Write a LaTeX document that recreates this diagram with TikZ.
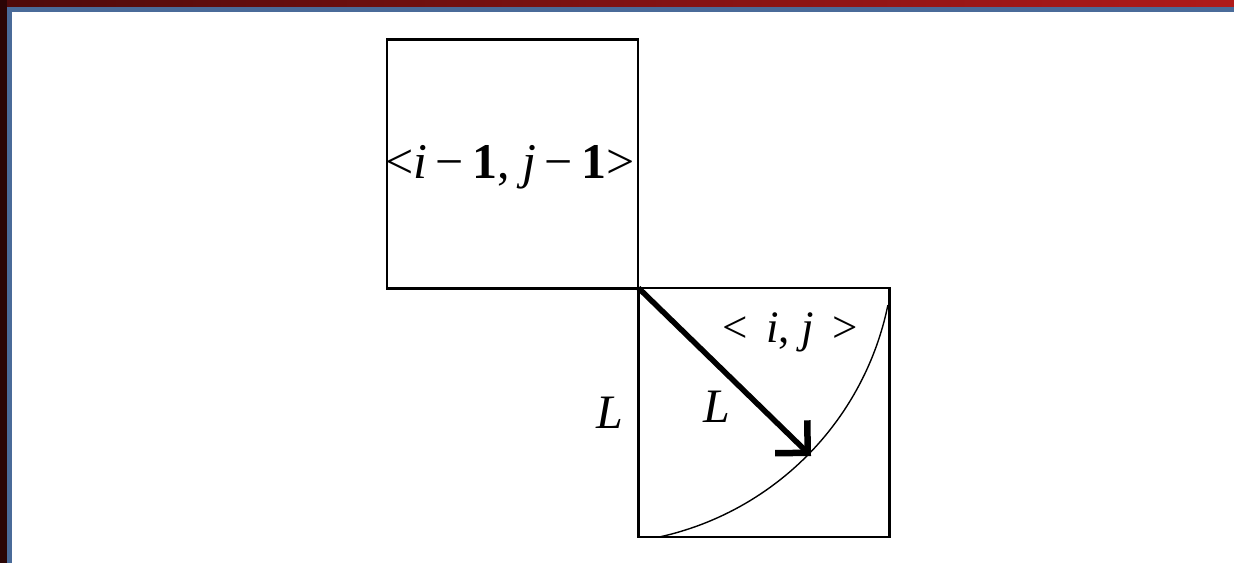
\documentclass[tikz,border=0pt]{standalone}
\usepackage{fontspec}
\setmainfont{Liberation Serif}
\usetikzlibrary{arrows.meta}
\definecolor{frameblue}{HTML}{4A6B99}
\definecolor{framedark}{HTML}{2A0505}
\definecolor{redL}{HTML}{4E0A0A}
\definecolor{redR}{HTML}{B01A1A}
\tikzset{
  cell/.style={draw=black, line width=2.2pt, minimum width=251pt, minimum height=249pt, inner sep=0pt, outer sep=0pt},
  lbl/.style={inner sep=0pt, font=\fontsize{50}{54}\selectfont},
  vec/.style={line width=5.5pt, -{Straight Barb[length=23pt,width=46pt,line width=6.5pt]}},
  bow/.style={line width=1.4pt}
}
\begin{document}
\begin{tikzpicture}[x=1pt,y=-1pt]
\useasboundingbox (0,0) rectangle (1234,563);
\fill[white] (0,0) rectangle (1234,563);
% frame
\shade[left color=redL, right color=redR] (0,0) rectangle (1234,6.5);
\fill[framedark] (0,0) rectangle (6.5,563);
\fill[frameblue] (6.5,6.5) rectangle (1234,11.5);
\fill[frameblue] (6.5,6.5) rectangle (11.5,563);
% squares
\node[cell] (prev) at (512.5,164) {};
\node[cell] (cur) at (764,412.5) {};
\node[lbl] (tprev) at (510,167) {<\textit{i}\,−\,\textbf{1}, \textit{j}\,−\,\textbf{1}>};
\node[lbl, font=\fontsize{45}{48}\selectfont] (tcur) at (790,332) {<\, \textit{i}, \textit{j}\, >};
\node[lbl, font=\fontsize{48}{50}\selectfont] (Lout) at (610,413) {\textit{L}};
\node[lbl, font=\fontsize{48}{50}\selectfont] (Lin) at (717,407) {\textit{L}};
% arc
\draw[bow] plot[domain=11.6:77.4, samples=80] ({595+299*cos(\x)},{245+299*sin(\x)});
% arrow
\coordinate (tip) at (811,456);
\draw[vec] (cur.north west) -- (tip);
\end{tikzpicture}
\end{document}
